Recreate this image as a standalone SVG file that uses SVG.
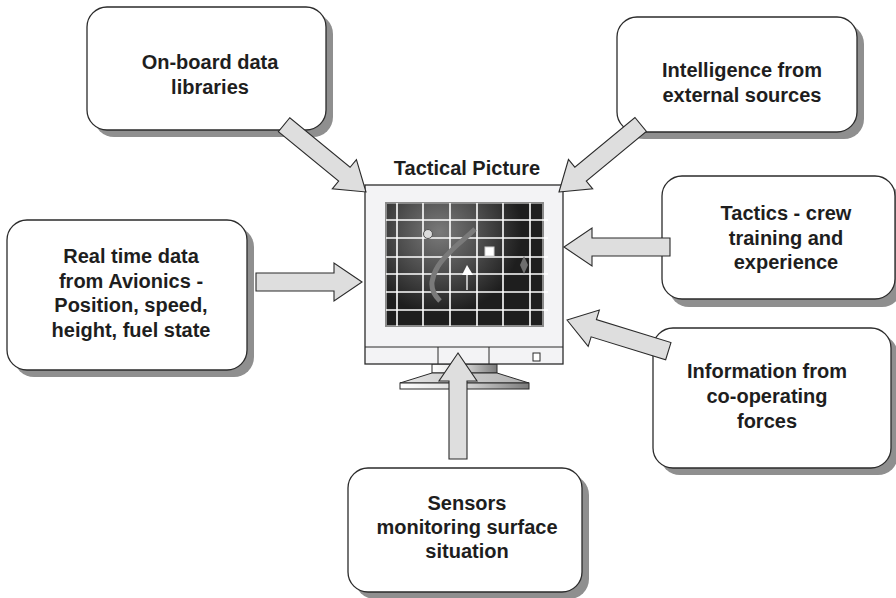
<svg xmlns="http://www.w3.org/2000/svg" width="896" height="598" viewBox="0 0 896 598">
  <defs>
    <style>
      .shadow { fill: #8f8f8f; }
      .box { fill: #ffffff; stroke: #2b2b2b; stroke-width: 1.3; }
      .label { font-family: "Liberation Sans", Arial, sans-serif; font-weight: bold; font-size: 20px; fill: #1e1e1e; text-anchor: middle; }
      .arrow { fill: #dedede; stroke: #2b2b2b; stroke-width: 1.1; stroke-linejoin: miter; }
      .grid { stroke: #ffffff; stroke-width: 1.6; }
    </style>
    <radialGradient id="screenGlow" gradientUnits="userSpaceOnUse" cx="440" cy="232" r="82">
      <stop offset="0" stop-color="#7a7a7a"/>
      <stop offset="0.5" stop-color="#4e4e4e"/>
      <stop offset="1" stop-color="#1e1e1e"/>
    </radialGradient>
    <linearGradient id="standShade" x1="0" y1="0" x2="1" y2="0">
      <stop offset="0" stop-color="#ffffff"/>
      <stop offset="0.5" stop-color="#d8d8d8"/>
      <stop offset="1" stop-color="#7a7a7a"/>
    </linearGradient>
    <linearGradient id="baseShade" x1="0" y1="0" x2="1" y2="0">
      <stop offset="0" stop-color="#e6e6e6"/>
      <stop offset="1" stop-color="#b0b0b0"/>
    </linearGradient>
    <path id="arrowShape" d="M0,0 L-28,-19 L-28,-9 L-106,-9 L-106,9 L-28,9 L-28,19 Z"/>
  </defs>

  <rect width="896" height="598" fill="#ffffff"/>

  <!-- Source boxes -->
  <g id="node-onboard">
    <rect class="shadow" x="94" y="14" width="239" height="123" rx="20"/>
    <rect class="box" x="87" y="7" width="239" height="123" rx="20"/>
    <text class="label" x="210" y="69">On-board data</text>
    <text class="label" x="210" y="94">libraries</text>
  </g>

  <g id="node-intelligence">
    <rect class="shadow" x="624" y="24" width="240" height="115" rx="20"/>
    <rect class="box" x="617" y="17" width="240" height="115" rx="20"/>
    <text class="label" x="742" y="77">Intelligence from</text>
    <text class="label" x="742" y="102">external sources</text>
  </g>

  <g id="node-tactics">
    <rect class="shadow" x="669" y="184" width="233" height="123" rx="20"/>
    <rect class="box" x="662" y="176" width="233" height="123" rx="20"/>
    <text class="label" x="786" y="220">Tactics - crew</text>
    <text class="label" x="786" y="245">training and</text>
    <text class="label" x="786" y="269">experience</text>
  </g>

  <g id="node-information">
    <rect class="shadow" x="660" y="335" width="238" height="140" rx="20"/>
    <rect class="box" x="653" y="328" width="238" height="140" rx="20"/>
    <text class="label" x="767" y="378">Information from</text>
    <text class="label" x="767" y="403">co-operating</text>
    <text class="label" x="767" y="428">forces</text>
  </g>

  <g id="node-realtime">
    <rect class="shadow" x="14" y="227" width="240" height="150" rx="20"/>
    <rect class="box" x="7" y="220" width="240" height="150" rx="20"/>
    <text class="label" x="131" y="263">Real time data</text>
    <text class="label" x="131" y="288">from Avionics -</text>
    <text class="label" x="131" y="312">Position, speed,</text>
    <text class="label" x="131" y="337">height, fuel state</text>
  </g>

  <g id="node-sensors">
    <rect class="shadow" x="355" y="475" width="234" height="124" rx="20"/>
    <rect class="box" x="348" y="468" width="234" height="124" rx="20"/>
    <text class="label" x="467" y="510">Sensors</text>
    <text class="label" x="467" y="534">monitoring surface</text>
    <text class="label" x="467" y="558">situation</text>
  </g>

  <!-- Central display: tactical picture -->
  <g id="node-monitor">
    <text class="label" x="467" y="175">Tactical Picture</text>
    <!-- stand -->
    <rect x="432" y="364" width="65" height="9" fill="url(#standShade)" stroke="#2b2b2b" stroke-width="1"/>
    <polygon points="432,373 497,373 529,383 400,383" fill="url(#baseShade)" stroke="#2b2b2b" stroke-width="1"/>
    <rect x="400" y="383" width="129" height="6" fill="url(#standShade)" stroke="#2b2b2b" stroke-width="1"/>
    <!-- bezel -->
    <rect x="365" y="185" width="198" height="179" fill="#f3f3f5" stroke="#2b2b2b" stroke-width="1.3"/>
    <line x1="365" y1="347" x2="563" y2="347" stroke="#2b2b2b" stroke-width="1"/>
    <line x1="438" y1="347" x2="438" y2="364" stroke="#2b2b2b" stroke-width="1"/>
    <line x1="489" y1="347" x2="489" y2="364" stroke="#2b2b2b" stroke-width="1"/>
    <rect x="533" y="353" width="7" height="8" fill="#ffffff" stroke="#2b2b2b" stroke-width="1"/>
    <!-- screen -->
    <rect x="386" y="203" width="157" height="123" fill="#1e1e1e" stroke="#8a8a8a" stroke-width="2"/>
    <rect x="387" y="204" width="155" height="121" fill="url(#screenGlow)"/>
    <g class="grid">
      <line x1="397" y1="203" x2="397" y2="326"/>
      <line x1="423" y1="203" x2="423" y2="326"/>
      <line x1="450" y1="203" x2="450" y2="326"/>
      <line x1="477" y1="203" x2="477" y2="326"/>
      <line x1="503" y1="203" x2="503" y2="326"/>
      <line x1="530" y1="203" x2="530" y2="326"/>
      <line x1="386" y1="220" x2="548" y2="220"/>
      <line x1="386" y1="238" x2="548" y2="238"/>
      <line x1="386" y1="257" x2="548" y2="257"/>
      <line x1="386" y1="274" x2="548" y2="274"/>
      <line x1="386" y1="292" x2="548" y2="292"/>
      <line x1="386" y1="310" x2="548" y2="310"/>
    </g>
    <!-- contacts on the display -->
    <path d="M475,229 C466,238 456,245 449,253 C440,262 434,270 432,282 C431,291 436,297 440,301" fill="none" stroke="#7a7a7a" stroke-width="5" stroke-linecap="butt"/>
    <circle cx="428" cy="234" r="4.5" fill="#dcdcdc" stroke="#555555" stroke-width="1"/>
    <rect x="485" y="247" width="9" height="9" fill="#ffffff" stroke="#cfcfcf" stroke-width="1"/>
    <line x1="467" y1="274" x2="467" y2="290" stroke="#ffffff" stroke-width="1.3"/>
    <polygon points="467,265 473,275 462,275" fill="#ffffff"/>
    <polygon points="524,256 528,265 524,274 520,265" fill="#6e6e6e"/>
  </g>

  <!-- Block arrows feeding the tactical picture -->
  <g id="connectors">
    <use href="#arrowShape" class="arrow" transform="translate(366,192) rotate(39.4)"/>
    <use href="#arrowShape" class="arrow" transform="translate(559,192) rotate(140.4)"/>
    <use href="#arrowShape" class="arrow" transform="translate(362,282)"/>
    <use href="#arrowShape" class="arrow" transform="translate(564,247) rotate(180)"/>
    <use href="#arrowShape" class="arrow" transform="translate(567,320) rotate(197.1)"/>
    <use href="#arrowShape" class="arrow" transform="translate(458,353) rotate(-90)"/>
  </g>
</svg>
